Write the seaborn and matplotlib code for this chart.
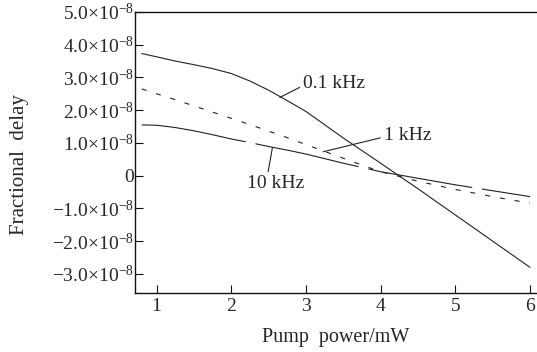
import matplotlib
matplotlib.use("Agg")
import matplotlib.pyplot as plt
import seaborn as sns
import pandas as pd

# Data (fractional delay in units of 1e-8)
power = [0.8, 1.0, 1.25, 1.5, 1.75, 2.0, 2.25, 2.5, 2.75, 3.0, 3.5, 4.0, 4.5, 5.0, 5.5, 6.0]
delay_01k = [3.73, 3.63, 3.50, 3.39, 3.27, 3.12, 2.89, 2.61, 2.29, 1.96, 1.15, 0.38, -0.40, -1.20, -2.00, -2.80]
delay_1k = [2.65, 2.50, 2.32, 2.13, 1.94, 1.75, 1.56, 1.36, 1.16, 0.95, 0.53, 0.12, -0.17, -0.42, -0.64, -0.84]
delay_10k = [1.55, 1.54, 1.47, 1.37, 1.25, 1.12, 1.01, 0.89, 0.78, 0.66, 0.38, 0.12, -0.08, -0.28, -0.46, -0.64]

yticks = [-3, -2, -1, 0, 1, 2, 3, 4, 5]
yticklabels = [r"$-$3.0$\times$10$^{-8}$", r"$-$2.0$\times$10$^{-8}$", r"$-$1.0$\times$10$^{-8}$", "0",
               r"1.0$\times$10$^{-8}$", r"2.0$\times$10$^{-8}$", r"3.0$\times$10$^{-8}$",
               r"4.0$\times$10$^{-8}$", r"5.0$\times$10$^{-8}$"]
xticks = [1, 2, 3, 4, 5, 6]

sns.set_style("ticks")
plt.rcParams["font.family"] = ["Liberation Serif", "DejaVu Serif"]
plt.rcParams["mathtext.fontset"] = "custom"
plt.rcParams["mathtext.rm"] = "Liberation Serif"
plt.rcParams["mathtext.it"] = "Liberation Serif:italic"

df = pd.DataFrame({"p": power, "a": delay_01k, "b": delay_1k, "c": delay_10k})

fig = plt.figure(figsize=(5.37, 3.52), dpi=100)
ax = fig.add_axes([0.2514, 0.168, 0.7486, 0.798])

lw = 0.8
sns.lineplot(data=df, x="p", y="a", ax=ax, color="#222222", lw=lw)
sns.lineplot(data=df, x="p", y="b", ax=ax, color="#222222", lw=lw, dashes=False,
             linestyle=(0, (4.5, 9)))
sns.lineplot(data=df, x="p", y="c", ax=ax, color="#222222", lw=lw, dashes=False,
             linestyle=(0, (95, 9)))

ax.set_xlim(0.71, 6.094)
ax.set_ylim(-3.58, 5.0)
ax.set_xticks(xticks)
ax.set_xticklabels([str(t) for t in xticks])
ax.set_yticks(yticks)
ax.set_yticklabels(yticklabels)
ax.tick_params(axis="both", direction="in", length=5.5, width=0.8, labelsize=14, color="#111111")
ax.tick_params(axis="y", pad=0.5)
ax.tick_params(axis="x", pad=4)

for s in ["left", "bottom", "top"]:
    ax.spines[s].set_linewidth(1.0)
    ax.spines[s].set_color("#111111")
ax.spines["right"].set_visible(False)

ax.set_xlabel("Pump  power/mW", fontsize=14.5, labelpad=9)
ax.set_ylabel("Fractional  delay", fontsize=15, va="center")
ax.yaxis.set_label_coords(-0.287, 0.455)

ap = dict(arrowstyle="-", lw=0.8, color="#222222", shrinkA=0, shrinkB=0)
ax.annotate("0.1 kHz", xy=(2.65, 2.39), xytext=(2.96, 2.80), fontsize=14, va="center", ha="left",
            arrowprops=dict(ap, relpos=(0, 0.4)))
ax.annotate("1 kHz", xy=(3.23, 0.73), xytext=(4.04, 1.24), fontsize=14, va="center", ha="left",
            arrowprops=dict(ap, relpos=(-0.05, 0.35)))
ax.annotate("10 kHz", xy=(2.55, 0.85), xytext=(2.6, -0.24), fontsize=14, va="center", ha="center",
            arrowprops=dict(ap, relpos=(0.35, 1.0)))

if ax.get_legend():
    ax.get_legend().remove()

fig.savefig("out.png", dpi=100)
